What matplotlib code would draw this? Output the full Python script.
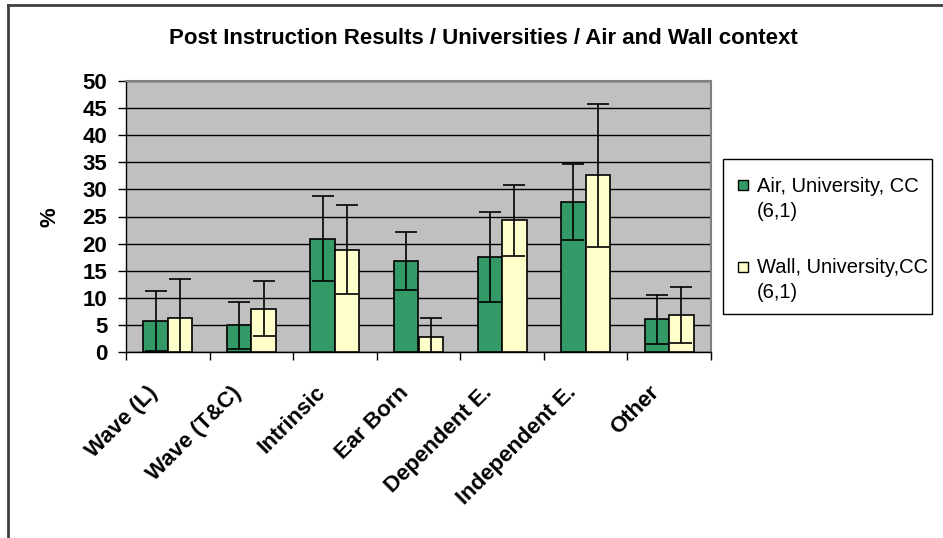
import matplotlib
matplotlib.use("Agg")
import matplotlib.pyplot as plt
import numpy as np
from matplotlib.lines import Line2D
from matplotlib.patches import Rectangle
from matplotlib.transforms import ScaledTranslation

categories = ["Wave (L)", "Wave (T&C)", "Intrinsic", "Ear Born",
              "Dependent E.", "Independent E.", "Other"]
air_values = [5.7, 4.9, 20.9, 16.8, 17.6, 27.7, 6.0]
air_errors = [5.6, 4.3, 7.8, 5.4, 8.3, 7.0, 4.6]
wall_values = [6.2, 8.0, 18.9, 2.8, 24.3, 32.6, 6.8]
wall_errors = [7.2, 5.1, 8.2, 3.4, 6.5, 13.2, 5.2]
series_labels = ["Air, University, CC\n(6,1)", "Wall, University,CC\n(6,1)"]
title = "Post Instruction Results / Universities / Air and Wall context"
y_ticks = list(range(0, 55, 5))

plt.rcParams['font.family'] = ['Liberation Sans', 'DejaVu Sans']

W, H = 943, 538
fig = plt.figure(figsize=(W / 100, H / 100), dpi=100)
fig.patch.set_facecolor('white')

def fx(px):
    return px / W

def fy(py):
    return 1 - py / H

# outer chart frame (only top and left visible)
fig.add_artist(Line2D([fx(8), 1.0], [fy(5), fy(5)], transform=fig.transFigure,
                      color='#404040', lw=2))
fig.add_artist(Line2D([fx(8), fx(8)], [0, fy(5)], transform=fig.transFigure,
                      color='#404040', lw=2))

ax = fig.add_axes([fx(126), fy(352), 585 / W, 271 / H])
ax.set_facecolor('#C0C0C0')

x = np.arange(len(categories))
bw = 0.293
green = '#339966'
yellow = '#FFFFCC'
colors = [green, yellow]
ax.bar(x - bw / 2, air_values, bw, color=green, edgecolor='black', linewidth=1.2,
       zorder=3)
ax.bar(x + bw / 2, wall_values, bw, color=yellow, edgecolor='black', linewidth=1.2,
       zorder=3)
ax.errorbar(x - bw / 2, air_values, yerr=air_errors, fmt='none', ecolor='black',
            elinewidth=1.2, capsize=8, capthick=1.2, zorder=4)
ax.errorbar(x + bw / 2, wall_values, yerr=wall_errors, fmt='none', ecolor='black',
            elinewidth=1.2, capsize=8, capthick=1.2, zorder=4)

ax.set_xlim(-0.5, len(categories) - 0.5)
ax.set_ylim(0, 50)
ax.set_yticks(y_ticks)
ax.set_yticklabels([str(v) for v in y_ticks], fontsize=16, fontweight='bold')
ax.yaxis.grid(True, color='black', linewidth=1)
ax.set_axisbelow(True)

ax.set_xticks(x)
ax.set_xticklabels(categories, rotation=45, ha='right', va='center',
                   rotation_mode='anchor', fontsize=16, fontweight='bold')
ax.tick_params(axis='x', length=0, pad=27)
off = ScaledTranslation(-13 / 100, 0, fig.dpi_scale_trans)
for lab in ax.get_xticklabels():
    lab.set_transform(lab.get_transform() + off)
ax.set_xticks(np.arange(-0.5, len(categories)), minor=True)
ax.tick_params(axis='x', which='minor', length=6, color='black', width=1)
ax.tick_params(axis='y', length=5.5, color='black', width=1, pad=8)

for s in ['top', 'right']:
    ax.spines[s].set_color('#808080')
    ax.spines[s].set_linewidth(1.5)
for s in ['left', 'bottom']:
    ax.spines[s].set_color('black')
    ax.spines[s].set_linewidth(1)

fig.text(fx(50), fy(217), '%', rotation=90, ha='center', va='center',
         fontsize=16, fontweight='bold')

fig.text(fx(483), fy(38), title, ha='center', va='center', fontsize=16,
         fontweight='bold')

# legend box
fig.add_artist(Rectangle((fx(723), fy(314)), 209 / W, 155 / H,
                         transform=fig.transFigure, facecolor='white',
                         edgecolor='black', lw=1))
sq_tops = [180, 262]
base1 = [192, 273]
for i, lab in enumerate(series_labels):
    fig.add_artist(Rectangle((fx(738), fy(sq_tops[i] + 10)), 10 / W, 10 / H,
                             transform=fig.transFigure, facecolor=colors[i],
                             edgecolor='black', lw=1))
    for j, line in enumerate(lab.split('\n')):
        fig.text(fx(757), fy(base1[i] + j * 25), line, ha='left', va='baseline',
                 fontsize=14.5)

fig.savefig('out.png', dpi=100)
